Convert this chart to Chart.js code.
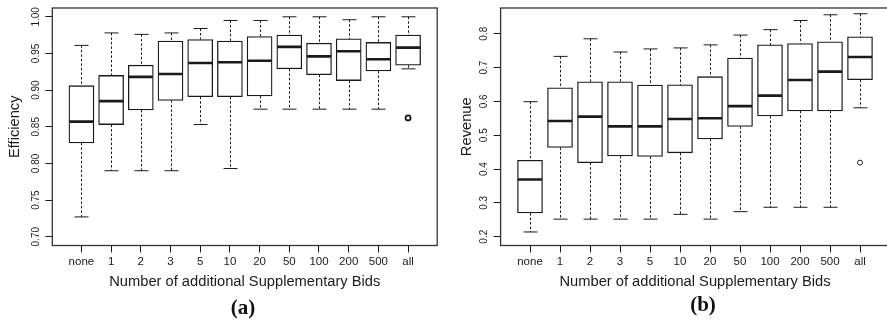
<!DOCTYPE html>
<html>
<head>
<meta charset="utf-8">
<script src="https://cdn.jsdelivr.net/npm/chart.js@4"></script>
<style>
  html, body { margin: 0; padding: 0; background: #fff; overflow: hidden; width: 887px; height: 322px; }
  .panel { position: absolute; top: 0; }
  .tag { position: absolute; font: bold 21px "Liberation Serif", "Times New Roman", serif; color: #111; transform: translate(-50%, -50%); }
</style>
</head>
<body>
<canvas id="effChart" class="panel" width="443" height="322" style="left:0"></canvas>
<canvas id="revChart" class="panel" width="452" height="322" style="left:443px"></canvas>
<div class="tag" style="left:243px; top:307px">(a)</div>
<div class="tag" style="left:703px; top:304px">(b)</div>
<script>
const categories = ["none", "1", "2", "3", "5", "10", "20", "50", "100", "200", "500", "all"];

// (a) efficiency
const effLow    = [0.727, 0.790, 0.790, 0.790, 0.853, 0.793, 0.874, 0.874, 0.874, 0.874, 0.874, 0.929];
const effQ1     = [0.828, 0.853, 0.873, 0.886, 0.891, 0.891, 0.892, 0.929, 0.921, 0.913, 0.926, 0.934];
const effMedian = [0.857, 0.885, 0.918, 0.922, 0.937, 0.938, 0.940, 0.959, 0.946, 0.953, 0.942, 0.958];
const effQ3     = [0.906, 0.920, 0.934, 0.967, 0.969, 0.967, 0.973, 0.975, 0.964, 0.970, 0.965, 0.975];
const effHigh   = [0.961, 0.978, 0.976, 0.978, 0.984, 0.995, 0.995, 1.000, 1.000, 0.996, 1.000, 1.000];
const effOutliers = [{ x: 11, y: 0.862 }];
const effTicks  = [0.70, 0.75, 0.80, 0.85, 0.90, 0.95, 1.00];

// (b) revenue
const revLow    = [0.214, 0.252, 0.252, 0.252, 0.252, 0.266, 0.252, 0.274, 0.287, 0.287, 0.287, 0.581];
const revQ1     = [0.270, 0.464, 0.419, 0.439, 0.437, 0.448, 0.489, 0.526, 0.557, 0.572, 0.572, 0.664];
const revMedian = [0.369, 0.542, 0.555, 0.526, 0.526, 0.548, 0.550, 0.586, 0.617, 0.663, 0.688, 0.731];
const revQ3     = [0.426, 0.640, 0.658, 0.658, 0.648, 0.649, 0.673, 0.728, 0.767, 0.771, 0.776, 0.791];
const revHigh   = [0.599, 0.733, 0.785, 0.746, 0.755, 0.758, 0.767, 0.796, 0.812, 0.839, 0.856, 0.859];
const revOutliers = [{ x: 11, y: 0.419 }];
const revTicks  = [0.2, 0.3, 0.4, 0.5, 0.6, 0.7, 0.8];

const FONT = '"Liberation Sans", Arial, Helvetica, sans-serif';
const INK = "#1a1a1a";

// whiskers, medians, frame and rotated y labels (R style)
function boxPlugin(low, q1, med, q3, high, ticks, digits, labelGap) {
   return {
      id: "boxExtras",
      beforeDatasetsDraw(chart) {
         const { ctx } = chart;
         const xs = chart.scales.x, ys = chart.scales.y;
         ctx.save();
         ctx.strokeStyle = INK;
         ctx.lineWidth = 1;
         for (let i = 0; i < categories.length; i++) {
            const x = Math.round(xs.getPixelForValue(i)) + 0.5;
            ctx.setLineDash([2.5, 2]);
            ctx.beginPath();
            ctx.moveTo(x, ys.getPixelForValue(high[i]));
            ctx.lineTo(x, ys.getPixelForValue(q3[i]));
            ctx.moveTo(x, ys.getPixelForValue(q1[i]));
            ctx.lineTo(x, ys.getPixelForValue(low[i]));
            ctx.stroke();
            ctx.setLineDash([]);
            ctx.beginPath();
            for (const v of [high[i], low[i]]) {
               const y = ys.getPixelForValue(v);
               ctx.moveTo(x - 7, y);
               ctx.lineTo(x + 7, y);
            }
            ctx.stroke();
         }
         ctx.restore();
      },
      afterDatasetsDraw(chart) {
         const { ctx } = chart;
         const xs = chart.scales.x, ys = chart.scales.y;
         ctx.save();
         ctx.strokeStyle = INK;
         ctx.lineWidth = 2.6;
         ctx.beginPath();
         for (let i = 0; i < categories.length; i++) {
            const x = xs.getPixelForValue(i);
            const y = ys.getPixelForValue(med[i]);
            ctx.moveTo(x - 12, y);
            ctx.lineTo(x + 12, y);
         }
         ctx.stroke();
         ctx.restore();
      },
      afterDraw(chart) {
         const { ctx, chartArea } = chart;
         const ys = chart.scales.y;
         ctx.save();
         ctx.strokeStyle = "#333";
         ctx.lineWidth = 1.3;
         ctx.strokeRect(chartArea.left, chartArea.top, chartArea.right - chartArea.left, chartArea.bottom - chartArea.top);
         ctx.fillStyle = INK;
         ctx.font = "10px " + FONT;
         ctx.textAlign = "center";
         ctx.textBaseline = "middle";
         for (const t of ticks) {
            ctx.save();
            ctx.translate(chartArea.left - labelGap, ys.getPixelForValue(t));
            ctx.rotate(-Math.PI / 2);
            ctx.fillText(t.toFixed(digits), 0, 0);
            ctx.restore();
         }
         ctx.restore();
      },
   };
}

function buildChart(id, cfg) {
   const ctx = document.getElementById(id).getContext("2d");
   return new Chart(ctx, {
      type: "bar",
      data: {
         datasets: [
            {
               type: "bar",
               data: categories.map((c, i) => ({ x: i, y: [cfg.q1[i], cfg.q3[i]] })),
               backgroundColor: "#fff",
               borderColor: INK,
               borderWidth: 1.3,
               borderSkipped: false,
               barThickness: 25,
            },
            {
               type: "scatter",
               data: cfg.outliers,
               pointStyle: "circle",
               pointRadius: 2.5,
               pointBackgroundColor: "#fff",
               pointBorderColor: INK,
               pointBorderWidth: cfg.outlierWidth,
            },
         ],
      },
      options: {
         responsive: false,
         animation: false,
         devicePixelRatio: 1,
         layout: { padding: { top: 8, right: cfg.padRight, bottom: 0, left: 0 } },
         plugins: { legend: { display: false }, tooltip: { enabled: false } },
         scales: {
            x: {
               type: "linear",
               offset: false,
               min: -0.98,
               max: 11.98,
               afterBuildTicks: (scale) => {
                  scale.ticks = categories.map((c, i) => ({ value: i }));
               },
               afterFit: (scale) => {
                  scale.height = 76.5;
               },
               ticks: {
                  autoSkip: false,
                  maxRotation: 0,
                  padding: 2,
                  color: INK,
                  font: { family: FONT, size: 11.5 },
                  callback: (v, i) => categories[i],
               },
               grid: { drawOnChartArea: false, offset: false, tickLength: 7, color: INK },
               border: { display: false },
               title: {
                  display: true,
                  text: "Number of additional Supplementary Bids",
                  color: INK,
                  font: { family: FONT, size: 14.7 },
                  padding: { top: 0, bottom: 31 },
               },
            },
            y: {
               min: cfg.yMin,
               max: cfg.yMax,
               afterBuildTicks: (scale) => {
                  scale.ticks = cfg.ticks.map((v) => ({ value: v }));
               },
               afterFit: (scale) => {
                  scale.width = cfg.axisWidth;
               },
               ticks: { display: false },
               grid: { drawOnChartArea: false, tickLength: 7, color: INK },
               border: { display: false },
               title: {
                  display: true,
                  text: cfg.title,
                  color: INK,
                  font: { family: FONT, size: 14.7 },
                  padding: { top: cfg.titlePad, bottom: 0 },
               },
            },
         },
      },
      plugins: [boxPlugin(cfg.low, cfg.q1, cfg.median, cfg.q3, cfg.high, cfg.ticks, cfg.digits, 16)],
   });
}

buildChart("effChart", {
   low: effLow, q1: effQ1, median: effMedian, q3: effQ3, high: effHigh,
   outliers: effOutliers, outlierWidth: 1.8, ticks: effTicks, digits: 2,
   yMin: 0.688, yMax: 1.012, title: "Efficiency",
   axisWidth: 52.3, padRight: 1.9, titlePad: 5.7,
});

buildChart("revChart", {
   low: revLow, q1: revQ1, median: revMedian, q3: revQ3, high: revHigh,
   outliers: revOutliers, outlierWidth: 1, ticks: revTicks, digits: 1,
   yMin: 0.174, yMax: 0.876, title: "Revenue",
   axisWidth: 57.6, padRight: 5.6, titlePad: 15.2,
});
</script>
</body>
</html>
